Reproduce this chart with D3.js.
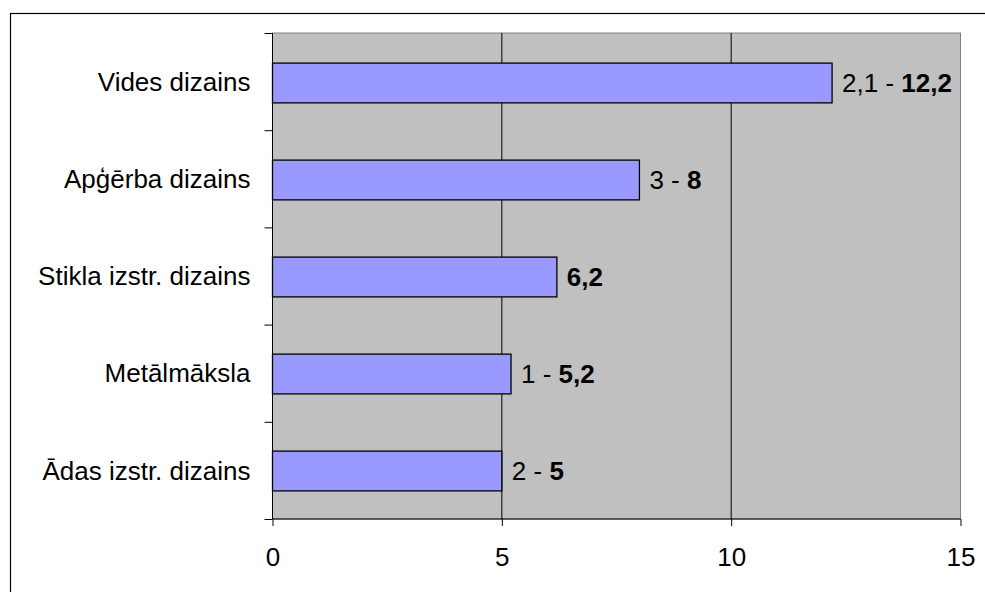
<!DOCTYPE html>
<meta charset="utf-8">
<style>
  body { margin: 0; background: #fff; }
  svg { display: block; font-family: "Liberation Sans", Arial, sans-serif; }
  .grid line { stroke: #000; stroke-width: 1; }
  .axis path, .axis line { stroke: #000; }
  .axis text { font-size: 26px; fill: #000; font-family: "Liberation Sans", Arial, sans-serif; }
  .bar { fill: #9999FF; stroke: #000; stroke-width: 1.3; }
  .lbl { font-size: 26px; fill: #000; }
</style>
<body></body>
<script src="https://d3js.org/d3.v7.min.js"></script>
<script>
// data
var categories = ["Vides dizains", "Apģērba dizains", "Stikla izstr. dizains", "Metālmāksla", "Ādas izstr. dizains"];
var values = [12.2, 8, 6.2, 5.2, 5];
var prefixes = ["2,1", "3", "", "1", "2"];
var valueLabels = ["12,2", "8", "6,2", "5,2", "5"];
var xTicks = [0, 5, 10, 15];

var W = 985, H = 592;
var margin = {top: 33, right: 24.5, bottom: 73, left: 272.5};
var w = W - margin.left - margin.right,
    h = H - margin.top - margin.bottom;

var svg = d3.select("body").append("svg")
    .attr("width", W)
    .attr("height", H);

// outer chart border (clipped at right and bottom)
svg.append("rect")
    .attr("x", 10.5).attr("y", 13.5)
    .attr("width", 990).attr("height", 600)
    .attr("fill", "#fff").attr("stroke", "#000").attr("stroke-width", 1.2);

var chart = svg.append("g")
    .attr("transform", "translate(" + margin.left + "," + margin.top + ")");

var x = d3.scaleLinear().domain([0, 15]).range([0, w]);
var y = d3.scaleBand().domain(categories).range([0, h]).paddingInner(0.59).paddingOuter(0.3);

chart.append("rect")
    .attr("width", w).attr("height", h)
    .attr("fill", "#C0C0C0")
    .attr("stroke", "#808080").attr("stroke-width", 1);

chart.append("g").attr("class", "grid")
    .selectAll("line")
    .data(xTicks.slice(1, -1))
    .enter().append("line")
    .attr("x1", function(d) { return x(d); })
    .attr("x2", function(d) { return x(d); })
    .attr("y1", 0).attr("y2", h);

// x axis
var xaxis = d3.axisBottom(x).tickValues(xTicks).tickSize(7).tickPadding(22).tickFormat(d3.format("d"));
chart.append("g").attr("class", "axis")
    .attr("transform", "translate(0," + h + ")")
    .call(xaxis)
    .call(function(g) { g.select(".domain").attr("d", "M0,0H" + w); });

// y axis: ticks between categories, labels at centres
var yb = d3.scaleLinear().domain([0, categories.length]).range([0, h]);
var yaxis = d3.axisLeft(yb).tickValues(d3.range(0, categories.length + 1)).tickSize(8).tickFormat("");
chart.append("g").attr("class", "axis")
    .call(yaxis)
    .call(function(g) { g.select(".domain").attr("d", "M0,0V" + h); });

chart.selectAll("text.cat")
    .data(categories)
    .enter().append("text")
    .attr("class", "lbl cat")
    .attr("x", -22)
    .attr("y", function(d, i) { return yb(i + 0.5); })
    .attr("dy", "0.35em")
    .attr("text-anchor", "end")
    .text(function(d) { return d; });

// bars
chart.selectAll("rect.bar")
    .data(values)
    .enter().append("rect")
    .attr("class", "bar")
    .attr("x", 0)
    .attr("y", function(d, i) { return y(categories[i]) + 1; })
    .attr("width", function(d) { return x(d); })
    .attr("height", y.bandwidth());

var lbl = chart.selectAll("text.val")
    .data(values)
    .enter().append("text")
    .attr("class", "lbl val")
    .attr("x", function(d) { return x(d) + 10; })
    .attr("y", function(d, i) { return y(categories[i]) + 1 + y.bandwidth() / 2; })
    .attr("dy", "0.35em");

lbl.append("tspan")
    .text(function(d, i) { return prefixes[i] ? prefixes[i] + " - " : ""; });
lbl.append("tspan")
    .attr("font-weight", "bold")
    .text(function(d, i) { return valueLabels[i]; });
</script>
